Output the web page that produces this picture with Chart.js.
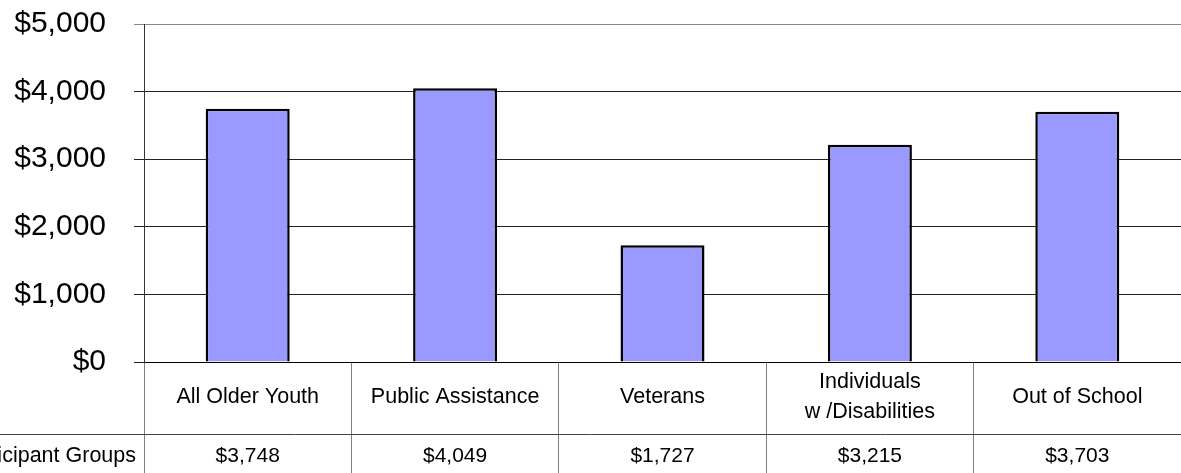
<!DOCTYPE html>
<html>
<head>
<meta charset="utf-8">
<script src="https://cdn.jsdelivr.net/npm/chart.js@4/dist/chart.umd.min.js"></script>
<style>
  html, body { margin: 0; padding: 0; background: #fff; }
  #wrap { width: 1181px; height: 473px; }
</style>
</head>
<body>
<div id="wrap"><canvas id="chart" width="1181" height="473"></canvas></div>
<script>
const groups = ['All Older Youth', 'Public Assistance', 'Veterans', ['Individuals', 'w /Disabilities'], 'Out of School'];
const costPerParticipant = [3748, 4049, 1727, 3215, 3703];
const rowTitle = 'Participant Groups';
const yTicks = [0, 1000, 2000, 3000, 4000, 5000];

const FONT = '"Liberation Sans", Arial, sans-serif';
const money = v => '$' + v.toLocaleString('en-US');

// Draws the data table under the x axis: group names, then the values row.
const dataTable = {
  id: 'dataTable',
  afterDraw(chart) {
    const x = chart.scales.x;
    const ctx = chart.ctx;
    const nameRow = 72;
    const rowLine = x.top + nameRow;

    ctx.save();
    ctx.strokeStyle = '#444';
    ctx.lineWidth = 1;
    ctx.beginPath();
    ctx.moveTo(0, Math.round(rowLine) + 0.5);
    ctx.lineTo(chart.chartArea.right, Math.round(rowLine) + 0.5);
    ctx.stroke();

    ctx.fillStyle = '#000';
    ctx.textAlign = 'center';
    ctx.textBaseline = 'alphabetic';
    ctx.font = '21.5px ' + FONT;
    groups.forEach((name, i) => {
      const cx = x.getPixelForValue(i);
      const lines = Array.isArray(name) ? name : [name];
      const lineGap = 30;
      const first = x.top + 40.5 - (lines.length - 1) * lineGap / 2;
      lines.forEach((line, j) => ctx.fillText(line, cx, first + j * lineGap));
    });

    ctx.font = '21px ' + FONT;
    costPerParticipant.forEach((v, i) => {
      ctx.fillText(money(v), x.getPixelForValue(i), rowLine + 28);
    });

    ctx.font = '21.5px ' + FONT;
    ctx.textAlign = 'right';
    ctx.fillText(rowTitle, chart.chartArea.left - 8, rowLine + 28);
    ctx.restore();
  }
};

new Chart(document.getElementById('chart'), {
  type: 'bar',
  data: {
    labels: groups,
    datasets: [{
      data: costPerParticipant,
      backgroundColor: '#9999ff',
      borderColor: '#000',
      borderWidth: 2.5,
      categoryPercentage: 1,
      barPercentage: 0.405
    }]
  },
  options: {
    responsive: false,
    animation: false,
    layout: { padding: { top: 24, left: 0, right: 0, bottom: 0 } },
    plugins: { legend: { display: false }, tooltip: { enabled: false } },
    scales: {
      x: {
        ticks: { display: false },
        grid: { offset: true, drawOnChartArea: false, tickLength: 111, color: '#808080', lineWidth: 1 },
        border: { color: '#000', width: 1 },
        afterFit(scale) { scale.height = 111; }
      },
      y: {
        min: yTicks[0],
        max: yTicks[yTicks.length - 1],
        afterBuildTicks(scale) { scale.ticks = yTicks.map(v => ({ value: v })); },
        ticks: {
          color: '#000',
          font: { family: FONT, size: 30 },
          padding: 28,
          callback: v => money(v)
        },
        grid: {
          tickLength: 10,
          color: ctx => ctx.tick && ctx.tick.value === 5000 ? '#888' : '#222',
          lineWidth: 1
        },
        border: { color: '#333', width: 1 },
        afterFit(scale) {
          scale.width = 144;
          scale.paddingTop = 0;
          scale.paddingBottom = 0;
        }
      }
    }
  },
  plugins: [dataTable]
});
</script>
</body>
</html>
